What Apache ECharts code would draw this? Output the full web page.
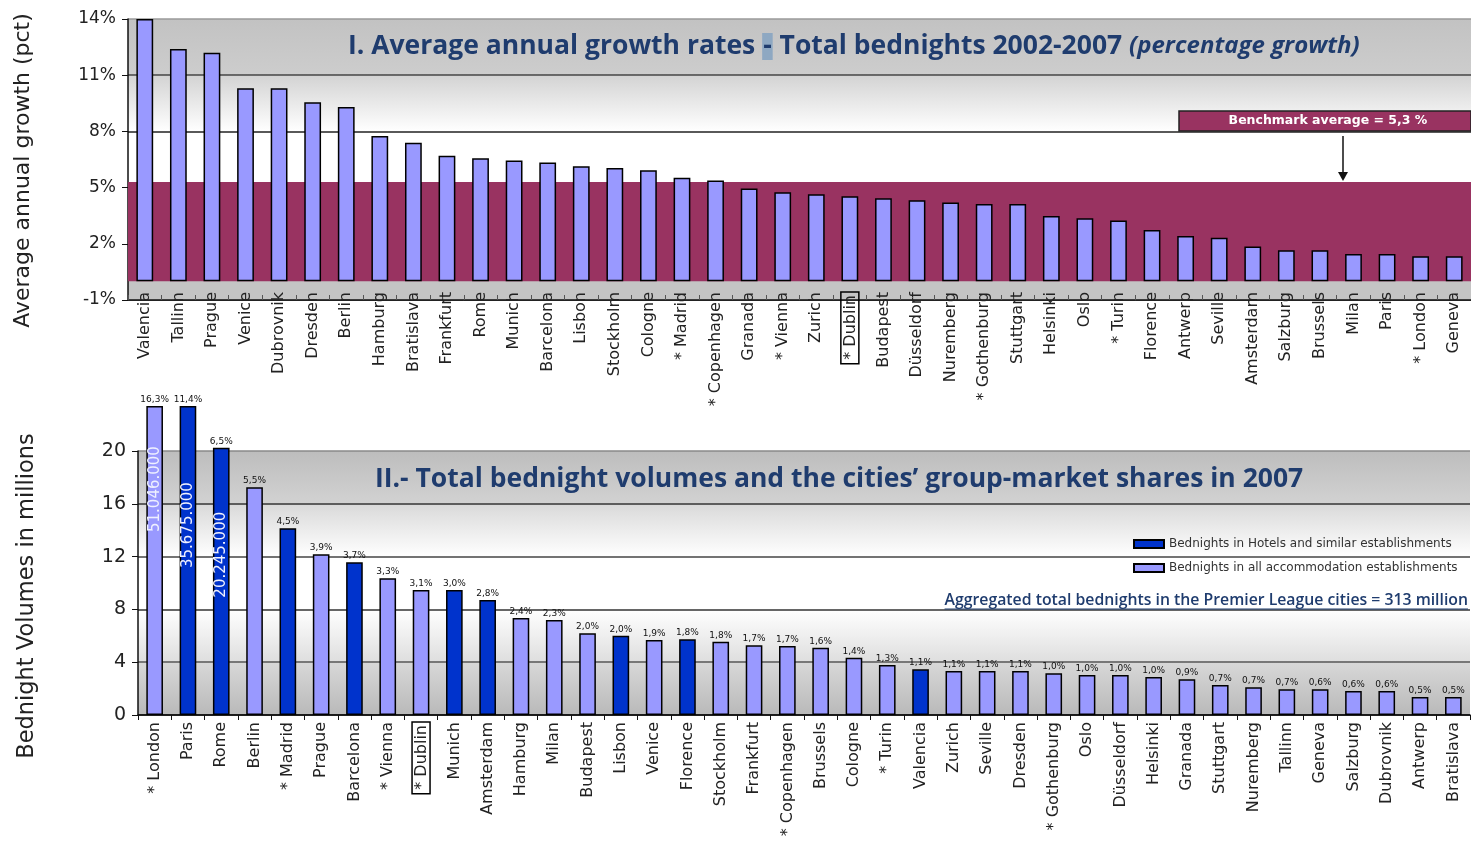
<!DOCTYPE html>
<html>
<head>
<meta charset="utf-8">
<script src="https://cdn.jsdelivr.net/npm/echarts@6/dist/echarts.min.js"></script>
<style>
  html, body { margin: 0; padding: 0; background: #ffffff; }
  #chart { width: 1471px; height: 845px; }
</style>
</head>
<body>
<div id="chart"></div>
<script>
// ---------- Panel I: average annual growth of total bednights 2002-2007 (%) ----------
const growthCities = [
  'Valencia', 'Tallinn', 'Prague', 'Venice', 'Dubrovnik', 'Dresden', 'Berlin', 'Hamburg',
  'Bratislava', 'Frankfurt', 'Rome', 'Munich', 'Barcelona', 'Lisbon', 'Stockholm', 'Cologne',
  '* Madrid', '* Copenhagen', 'Granada', '* Vienna', 'Zurich', '* Dublin', 'Budapest',
  'Düsseldorf', 'Nuremberg', '* Gothenburg', 'Stuttgart', 'Helsinki', 'Oslo', '* Turin',
  'Florence', 'Antwerp', 'Seville', 'Amsterdam', 'Salzburg', 'Brussels', 'Milan', 'Paris',
  '* London', 'Geneva'
];
const growthRates = [
  14.0, 12.4, 12.2, 10.3, 10.3, 9.55, 9.3, 7.75,
  7.4, 6.7, 6.57, 6.45, 6.34, 6.14, 6.05, 5.93,
  5.52, 5.38, 4.95, 4.75, 4.64, 4.54, 4.43,
  4.32, 4.21, 4.12, 4.12, 3.48, 3.36, 3.25,
  2.73, 2.41, 2.32, 1.86, 1.66, 1.66, 1.46, 1.46,
  1.34, 1.34
];
const benchmarkAverage = 5.3;
const growthAxis = { min: -1, max: 14, interval: 3 };

// ---------- Panel II: total bednight volumes 2007 (millions) and group-market shares ----------
const volumeCities = [
  '* London', 'Paris', 'Rome', 'Berlin', '* Madrid', 'Prague', 'Barcelona', '* Vienna',
  '* Dublin', 'Munich', 'Amsterdam', 'Hamburg', 'Milan', 'Budapest', 'Lisbon', 'Venice',
  'Florence', 'Stockholm', 'Frankfurt', '* Copenhagen', 'Brussels', 'Cologne', '* Turin',
  'Valencia', 'Zurich', 'Seville', 'Dresden', '* Gothenburg', 'Oslo', 'Düsseldorf',
  'Helsinki', 'Granada', 'Stuttgart', 'Nuremberg', 'Tallinn', 'Geneva', 'Salzburg',
  'Dubrovnik', 'Antwerp', 'Bratislava'
];
const volumesMillions = [
  51.046, 35.675, 20.245, 17.25, 14.14, 12.17, 11.57, 10.36,
  9.47, 9.47, 8.71, 7.35, 7.2, 6.19, 6.0, 5.68,
  5.73, 5.55, 5.28, 5.23, 5.1, 4.34, 3.79,
  3.46, 3.33, 3.33, 3.33, 3.16, 3.03, 3.03,
  2.88, 2.7, 2.27, 2.1, 1.95, 1.95, 1.82,
  1.82, 1.36, 1.36
];
const marketShares = [
  '16,3%', '11,4%', '6,5%', '5,5%', '4,5%', '3,9%', '3,7%', '3,3%',
  '3,1%', '3,0%', '2,8%', '2,4%', '2,3%', '2,0%', '2,0%', '1,9%',
  '1,8%', '1,8%', '1,7%', '1,7%', '1,6%', '1,4%', '1,3%',
  '1,1%', '1,1%', '1,1%', '1,1%', '1,0%', '1,0%', '1,0%',
  '1,0%', '0,9%', '0,7%', '0,7%', '0,7%', '0,6%', '0,6%',
  '0,6%', '0,5%', '0,5%'
];
// cities whose figure covers hotels and similar establishments only
const hotelOnlyCities = ['Paris', 'Rome', '* Madrid', 'Barcelona', 'Munich', 'Amsterdam', 'Lisbon', 'Florence', 'Valencia'];
const aggregatedTotalMillions = 313;
const volumeAxis = { min: 0, max: 20, interval: 4 };
// bars above this height are drawn broken off at the top of the panel
const volumeBarCap = 23.4;
// volumes at or above this are written inside the bar
const insideLabelThreshold = 20;

const HOTEL_NAME = 'Bednights in Hotels and similar establishments';
const ALL_NAME = 'Bednights in all accommodation establishments';

// ---------- styling ----------
const FONT = 'DejaVu Sans';
const TITLE_FONT = 'Open Sans';
const TITLE_BLUE = '#1f3c6e';
const MAROON = '#993361';
const DARK_BAR = '#0033cc';
const LIGHT_BAR = '#9999ff';
const insideLabelDrop = { '* London': 40, 'Paris': 76, 'Rome': 64 };

function vGrad(top, bottom) {
  return new echarts.graphic.LinearGradient(0, 0, 0, 1, [
    { offset: 0, color: top }, { offset: 1, color: bottom }
  ]);
}
function formatVolume(millions) {
  return String(Math.round(millions * 1e6)).replace(/\B(?=(\d{3})+(?!\d))/g, '.');
}
function cityLabel(v) {
  return v === '* Dublin' ? '{box|' + v + '}' : v;
}
const dublinBox = {
  box: {
    fontFamily: FONT, fontSize: 16, color: '#222',
    borderColor: '#000', borderWidth: 1.5, padding: [2, 3, 0, 4]
  }
};

const chart = echarts.init(document.getElementById('chart'), null, { renderer: 'canvas' });

const shownVolumes = volumesMillions.map(v => Math.min(v, volumeBarCap));

const option = {
  animation: false,
  backgroundColor: '#ffffff',
  title: [
    {
      text: 'I. Average annual growth rates {hl|-} Total bednights 2002-2007 {it|(percentage growth)}',
      left: 343, top: 28,
      textStyle: {
        fontFamily: TITLE_FONT, fontWeight: 'bold', fontSize: 26.5, color: TITLE_BLUE,
        rich: {
          hl: { fontFamily: TITLE_FONT, fontWeight: 'bold', fontSize: 26.5, color: TITLE_BLUE,
                backgroundColor: '#8ea8c2', padding: [0, 1, 0, 1] },
          it: { fontFamily: TITLE_FONT, fontWeight: 'bold', fontStyle: 'italic', fontSize: 24, color: TITLE_BLUE }
        }
      }
    },
    {
      text: 'II.- Total bednight volumes and the cities\u2019 group-market shares in 2007',
      left: 370, top: 461,
      textStyle: { fontFamily: TITLE_FONT, fontWeight: 'bold', fontSize: 26.5, color: TITLE_BLUE }
    }
  ],
  legend: {
    data: [HOTEL_NAME, ALL_NAME],
    orient: 'vertical',
    left: 1128, top: 533,
    itemWidth: 30, itemHeight: 8, itemGap: 12,
    selectedMode: false,
    icon: 'rect',
    textStyle: { fontFamily: FONT, fontSize: 12, color: '#333' }
  },
  grid: [
    { left: 128, right: 0, top: 19, height: 281 },
    { left: 138, right: 1, top: 451, height: 264 }
  ],
  xAxis: [
    {
      type: 'category', gridIndex: 0, data: growthCities,
      axisLine: { onZero: false, lineStyle: { color: '#222', width: 1 } },
      axisTick: { show: true, inside: true, length: 5, lineStyle: { color: '#555' } },
      axisLabel: {
        rotate: 90, margin: -8, interval: 0, fontFamily: FONT, fontSize: 16, color: '#222',
        formatter: cityLabel, rich: dublinBox
      }
    },
    {
      type: 'category', gridIndex: 1, data: volumeCities,
      axisLine: { lineStyle: { color: '#111', width: 1.5 } },
      axisTick: { show: true, length: 5, lineStyle: { color: '#111' } },
      axisLabel: {
        rotate: 90, margin: 7, interval: 0, fontFamily: FONT, fontSize: 16, color: '#222',
        formatter: cityLabel, rich: dublinBox
      }
    }
  ],
  yAxis: [
    {
      type: 'value', gridIndex: 0,
      min: growthAxis.min, max: growthAxis.max, interval: growthAxis.interval,
      name: 'Average annual growth (pct)', nameLocation: 'middle', nameGap: 94, nameRotate: 90,
      nameTextStyle: { fontFamily: FONT, fontSize: 22, color: '#222', padding: [0, 22, 0, 0] },
      axisLine: { show: true, lineStyle: { color: '#111', width: 1.5 } },
      axisTick: { show: true, length: 6, lineStyle: { color: '#111' } },
      axisLabel: { formatter: '{value}%', fontFamily: FONT, fontSize: 17, color: '#222', margin: 12 },
      splitLine: { show: true, lineStyle: { color: ['#111', '#333', '#333', '#222', '#444', '#9a9a9a'], width: 1.5 } },
      splitArea: {
        show: true,
        areaStyle: { color: ['#c4c4c4', '#ffffff', '#ffffff', vGrad('#d3d3d3', '#ffffff'), vGrad('#c2c2c2', '#cdcdcd')] }
      }
    },
    {
      type: 'value', gridIndex: 1,
      min: volumeAxis.min, max: volumeAxis.max, interval: volumeAxis.interval,
      name: 'Bednight Volumes in millions', nameLocation: 'middle', nameGap: 99, nameRotate: 90,
      nameTextStyle: { fontFamily: FONT, fontSize: 22.5, color: '#222', padding: [0, 26, 0, 0] },
      axisLine: { show: true, lineStyle: { color: '#111', width: 1.5 } },
      axisTick: { show: true, length: 6, lineStyle: { color: '#111' } },
      axisLabel: { fontFamily: FONT, fontSize: 19, color: '#222', margin: 12 },
      splitLine: { show: true, lineStyle: { color: ['#111', '#555', '#333', '#444', '#333', '#8a8a8a'], width: 1.5 } },
      splitArea: {
        show: true,
        areaStyle: {
          color: [vGrad('#d8d8d8', '#b9b9b9'), vGrad('#ffffff', '#dedede'), '#ffffff',
                  vGrad('#d9d9d9', '#ffffff'), vGrad('#bdbdbd', '#d2d2d2')]
        }
      }
    }
  ],
  series: [
    // benchmark band 0 .. average, behind the growth bars
    {
      type: 'line', xAxisIndex: 0, yAxisIndex: 0, data: [], z: 1, silent: true,
      markArea: {
        silent: true,
        itemStyle: { color: MAROON },
        data: [[{ yAxis: 0 }, { yAxis: benchmarkAverage }]]
      }
    },
    {
      name: 'Growth', type: 'bar', xAxisIndex: 0, yAxisIndex: 0, z: 5,
      data: growthRates, barWidth: '50%',
      itemStyle: { color: LIGHT_BAR, borderColor: '#000', borderWidth: 1.5 }
    },
    {
      name: HOTEL_NAME, type: 'bar', xAxisIndex: 1, yAxisIndex: 1, z: 5,
      barWidth: '50%', barGap: '-100%', clip: false,
      itemStyle: { color: DARK_BAR, borderColor: '#000', borderWidth: 1.5 },
      data: shownVolumes.map((v, i) => hotelOnlyCities.includes(volumeCities[i]) ? v : null),
      label: {
        show: true, position: 'top', distance: 2,
        fontFamily: FONT, fontSize: 9, color: '#111',
        formatter: p => marketShares[p.dataIndex]
      }
    },
    {
      name: ALL_NAME, type: 'bar', xAxisIndex: 1, yAxisIndex: 1, z: 5,
      barWidth: '50%', barGap: '-100%', clip: false,
      itemStyle: { color: LIGHT_BAR, borderColor: '#000', borderWidth: 1.5 },
      data: shownVolumes.map((v, i) => hotelOnlyCities.includes(volumeCities[i]) ? null : v),
      label: {
        show: true, position: 'top', distance: 2,
        fontFamily: FONT, fontSize: 9, color: '#111',
        formatter: p => marketShares[p.dataIndex]
      }
    },
    // full volume written inside the tallest bars
    {
      name: 'Volume', type: 'bar', xAxisIndex: 1, yAxisIndex: 1, z: 6,
      barWidth: '50%', barGap: '-100%', clip: false, silent: true,
      itemStyle: { color: 'rgba(0,0,0,0)', borderWidth: 0 },
      data: volumesMillions.map((v, i) => v >= insideLabelThreshold ? {
        value: shownVolumes[i],
        label: {
          show: true, position: 'insideTop', rotate: 90,
          distance: insideLabelDrop[volumeCities[i]] || 10,
          align: 'right', verticalAlign: 'middle',
          fontFamily: FONT, fontSize: 15, color: '#eef0ff',
          formatter: () => formatVolume(v)
        }
      } : null)
    }
  ]
};
chart.setOption(option);

// benchmark call-out and the aggregated-total note
const yBench = chart.convertToPixel({ yAxisIndex: 0 }, benchmarkAverage);
const benchText = 'Benchmark average = ' + benchmarkAverage.toFixed(1).replace('.', ',') + ' %';
const aggText = 'Aggregated total bednights in the Premier League cities = ' + aggregatedTotalMillions + ' million';
const aggFont = '600 15.8px "Open Sans"';
const ctx = document.createElement('canvas').getContext('2d');
ctx.font = aggFont;
const aggWidth = ctx.measureText(aggText).width;
const aggRight = 1468;

chart.setOption({
  graphic: [
    {
      type: 'rect', z: 20,
      shape: { x: 1179, y: 111, width: 292, height: 20 },
      style: { fill: MAROON, stroke: '#222', lineWidth: 1.5 }
    },
    {
      type: 'text', z: 21, x: 1328, y: 121,
      style: { text: benchText, fill: '#ffffff', font: 'bold 12.5px DejaVu Sans', textAlign: 'center', textVerticalAlign: 'middle' }
    },
    {
      type: 'line', z: 21,
      shape: { x1: 1343, y1: 136, x2: 1343, y2: yBench - 8 },
      style: { stroke: '#111', lineWidth: 1.5 }
    },
    {
      type: 'polygon', z: 21,
      shape: { points: [[1338, yBench - 10], [1348, yBench - 10], [1343, yBench - 1]] },
      style: { fill: '#111' }
    },
    {
      type: 'text', z: 21, x: aggRight, y: 600,
      style: { text: aggText, fill: TITLE_BLUE, font: aggFont, textAlign: 'right', textVerticalAlign: 'middle' }
    },
    {
      type: 'line', z: 21,
      shape: { x1: aggRight - aggWidth, y1: 609, x2: aggRight, y2: 609 },
      style: { stroke: TITLE_BLUE, lineWidth: 1 }
    }
  ]
});
</script>
</body>
</html>
